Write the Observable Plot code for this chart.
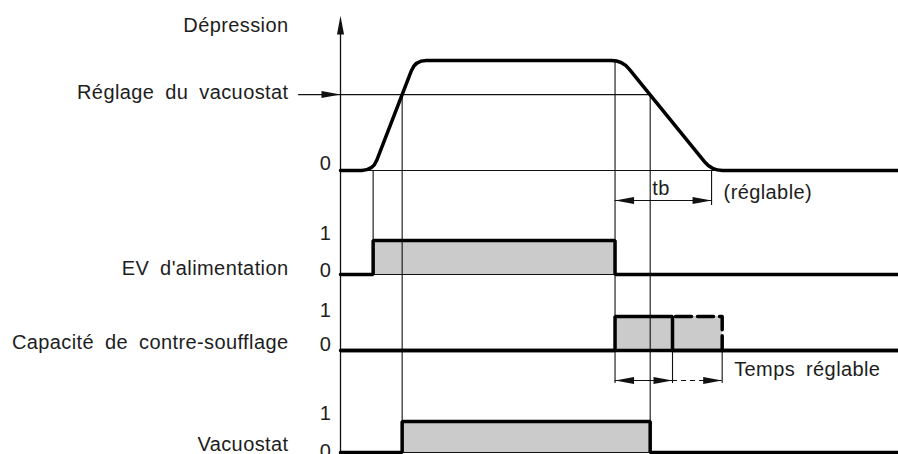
<!DOCTYPE html>
<html>
<head>
<meta charset="utf-8">
<script src="https://cdn.jsdelivr.net/npm/d3@7"></script>
<script src="https://cdn.jsdelivr.net/npm/@observablehq/plot@0.6"></script>
<style>
  html, body { margin: 0; padding: 0; background: #fff; }
  #chart svg text { letter-spacing: 0.4px; word-spacing: 5px; }
</style>
</head>
<body>
<div id="chart"></div>
<script>
// ---------- DATA (time in s, levels 0..1) ----------
const signalNames = ["Dépression", "Réglage du vacuostat", "EV d'alimentation", "Capacité de contre-soufflage", "Vacuostat"];
const levelLabels = ["0", "1"];
const annotationTexts = ["tb", "(réglable)", "Temps réglable"];

const depTimes  = [0, 0.58, 1.34, 5.05, 6.65, 10];
const depLevels = [0, 0, 1, 1, 0, 0];
const reglageLevel = 0.69;

const evTimes  = [0, 0.585, 4.92, 10];
const evLevels = [0, 1, 0, 0];

const capTimes  = [0, 4.92, 5.95, 10];
const capLevels = [0, 1, 0, 0];
const capExtTimes = [5.95, 6.84];          // adjustable (dashed) extension

const vacTimes  = [0, 1.105, 5.55, 10];
const vacLevels = [0, 1, 0, 0];

const tbTimes = [4.92, 6.65];              // tb dimension
const tempsTimes = [4.92, 5.95, 6.84];     // "Temps réglable" dimension

// ---------- LAYOUT ----------
const lanes = {
  dep: {base: 170, amp: 110},
  ev:  {base: 274, amp: 34},
  cap: {base: 350, amp: 34},
  vac: {base: 452, amp: 31}
};
const Y = (lane, v) => lanes[lane].base - v * lanes[lane].amp;
const axisTop = 15, axisBottom = 454;
const tbY = 200, tempsY = 380, dimTickBottom = 383, tbTickBottom = 205;
const leaderStart = -0.75;
const labelDx = -52, numDx = -15;
const thick = 3.5, thin = 1.1, ink = "#111", gray = "#cbcbcb";

const toPts = (ts, vs) => ts.map((t, i) => ({t, v: vs[i]}));

// rounded-corner curve (style only)
function roundedCorners(radius) {
  return (context) => {
    let pts = [];
    return {
      areaStart() {}, areaEnd() {},
      lineStart() { pts = []; },
      point(x, y) { pts.push([+x, +y]); },
      lineEnd() {
        if (!pts.length) return;
        context.moveTo(pts[0][0], pts[0][1]);
        for (let i = 1; i < pts.length - 1; i++) {
          const [x0, y0] = pts[i - 1], [x1, y1] = pts[i], [x2, y2] = pts[i + 1];
          const l1 = Math.hypot(x1 - x0, y1 - y0), l2 = Math.hypot(x2 - x1, y2 - y1);
          const d = Math.min(radius, l1 / 2, l2 / 2);
          context.lineTo(x1 - (x1 - x0) / l1 * d, y1 - (y1 - y0) / l1 * d);
          context.quadraticCurveTo(x1, y1, x1 + (x2 - x1) / l2 * d, y1 + (y2 - y1) / l2 * d);
        }
        const p = pts[pts.length - 1];
        context.lineTo(p[0], p[1]);
      }
    };
  };
}

// narrow filled arrowhead, tip at origin, pointing right
const arrowHead = {
  draw(ctx) {
    const L = 19, W = 3.5;
    ctx.moveTo(0, 0); ctx.lineTo(-L, -W); ctx.lineTo(-L, W); ctx.closePath();
  }
};

const dep = toPts(depTimes, depLevels);
const ev = toPts(evTimes, evLevels);
const cap = toPts(capTimes, capLevels);
const vac = toPts(vacTimes, vacLevels);

const pulses = [
  {x1: evTimes[1], x2: evTimes[2], lane: "ev"},
  {x1: capTimes[1], x2: capTimes[2], lane: "cap"},
  {x1: capExtTimes[0], x2: capExtTimes[1], lane: "cap"},
  {x1: vacTimes[1], x2: vacTimes[2], lane: "vac"}
];

const guides = [
  {t: evTimes[1], y1: Y("dep", 0), y2: Y("ev", 0)},
  {t: vacTimes[1], y1: Y("dep", reglageLevel), y2: Y("vac", 0)},
  {t: evTimes[2], y1: Y("dep", 1), y2: dimTickBottom},
  {t: vacTimes[2], y1: Y("dep", reglageLevel), y2: Y("vac", 0)},
  {t: tbTimes[1], y1: Y("dep", 0), y2: tbTickBottom},
  {t: tempsTimes[1], y1: Y("cap", 0), y2: dimTickBottom},
  {t: tempsTimes[2], y1: Y("cap", 0), y2: dimTickBottom}
];

const heads = [
  {t: 0, y: axisTop, r: -90},
  {t: 0, y: Y("dep", reglageLevel), r: 0},
  {t: tbTimes[0], y: tbY, r: 180},
  {t: tbTimes[1], y: tbY, r: 0},
  {t: tempsTimes[0], y: tempsY, r: 180},
  {t: tempsTimes[1], y: tempsY, r: 0},
  {t: tempsTimes[2], y: tempsY, r: 0}
];

const labels = [
  {text: signalNames[0], y: 25},
  {text: signalNames[1], y: 92.5},
  {text: signalNames[2], y: 268.5},
  {text: signalNames[3], y: 342.5},
  {text: signalNames[4], y: 444.5}
];
const nums = [
  {text: levelLabels[0], y: 163.5},
  {text: levelLabels[1], y: 233.5},
  {text: levelLabels[0], y: 270},
  {text: levelLabels[1], y: 310},
  {text: levelLabels[0], y: 344.5},
  {text: levelLabels[1], y: 413.5},
  {text: levelLabels[0], y: 451.5}
];

const baselines = ["dep", "ev", "cap", "vac"].map(l => ({lane: l}));
const txt = {fontSize: 20, lineAnchor: "middle", textAnchor: "start"};

const chart = Plot.plot({
  width: 898,
  height: 454,
  margin: 0,
  x: {domain: [0, 10], range: [340, 898], axis: null},
  y: {type: "identity", axis: null},
  style: {fontFamily: "'Liberation Sans', Arial, Helvetica, sans-serif", fontSize: "20px", color: "#1d1d1d", background: "#fff"},
  marks: [
    // gray pulse fills
    Plot.rect(pulses, {x1: "x1", x2: "x2", y1: d => Y(d.lane, 0), y2: d => Y(d.lane, 1), fill: gray}),
    // thin zero lines
    Plot.ruleY(baselines, {y: d => Y(d.lane, 0), x1: 0, x2: 10, stroke: ink, strokeWidth: thin}),
    // thin guide verticals
    Plot.ruleX(guides, {x: "t", y1: "y1", y2: "y2", stroke: ink, strokeWidth: thin}),
    // vacuostat setting leader
    Plot.ruleY([reglageLevel], {y: d => Y("dep", d), x1: leaderStart, x2: vacTimes[2], stroke: ink, strokeWidth: thin}),
    // vertical axis
    Plot.ruleX([0], {y1: axisBottom, y2: axisTop + 10, stroke: ink, strokeWidth: 1.3}),
    // tb dimension
    Plot.ruleY([tbY], {y: d => d, x1: tbTimes[0], x2: tbTimes[1], stroke: ink, strokeWidth: thin}),
    // temps réglable dimension
    Plot.ruleY([tempsY], {y: d => d, x1: tempsTimes[0], x2: tempsTimes[1], stroke: ink, strokeWidth: thin}),
    Plot.ruleY([tempsY], {y: d => d, x1: tempsTimes[1], x2: tempsTimes[2], stroke: ink, strokeWidth: thin, strokeDasharray: "5,4"}),
    // arrowheads
    Plot.dot(heads, {x: "t", y: "y", rotate: "r", symbol: arrowHead, fill: ink, stroke: "none"}),
    // signals
    Plot.line(dep, {x: "t", y: d => Y("dep", d.v), curve: roundedCorners(11), stroke: "#000", strokeWidth: thick}),
    Plot.line(ev, {x: "t", y: d => Y("ev", d.v), curve: "step-after", stroke: "#000", strokeWidth: thick, strokeLinejoin: "miter"}),
    Plot.ruleY([0], {y: d => Y("cap", d), x1: 0, x2: 10, stroke: "#000", strokeWidth: thick}),
    Plot.line(cap, {x: "t", y: d => Y("cap", d.v), curve: "step-after", stroke: "#000", strokeWidth: thick, strokeLinejoin: "miter"}),
    Plot.line([{t: capExtTimes[0], v: 1}, {t: capExtTimes[1], v: 1}, {t: capExtTimes[1], v: 0}],
      {x: "t", y: d => Y("cap", d.v), stroke: "#000", strokeWidth: thick, strokeDasharray: "16,6", strokeDashoffset: -3}),
    Plot.line(vac, {x: "t", y: d => Y("vac", d.v), curve: "step-after", stroke: "#000", strokeWidth: thick, strokeLinejoin: "miter"}),
    // texts
    Plot.text(labels, {x: 0, y: "y", dx: labelDx, text: "text", textAnchor: "end", lineAnchor: "middle", fontSize: 20}),
    Plot.text(nums, {x: 0, y: "y", dx: numDx, text: "text", textAnchor: "middle", lineAnchor: "middle", fontSize: 20}),
    Plot.text([annotationTexts[0]], {...txt, x: vacTimes[2], y: 188, dx: 2, text: d => d}),
    Plot.text([annotationTexts[1]], {...txt, x: tbTimes[1], y: 192, dx: 12, text: d => d}),
    Plot.text([annotationTexts[2]], {...txt, x: tempsTimes[2], y: 369.5, dx: 12, text: d => d})
  ]
});
document.getElementById("chart").appendChild(chart);
</script>
</body>
</html>
